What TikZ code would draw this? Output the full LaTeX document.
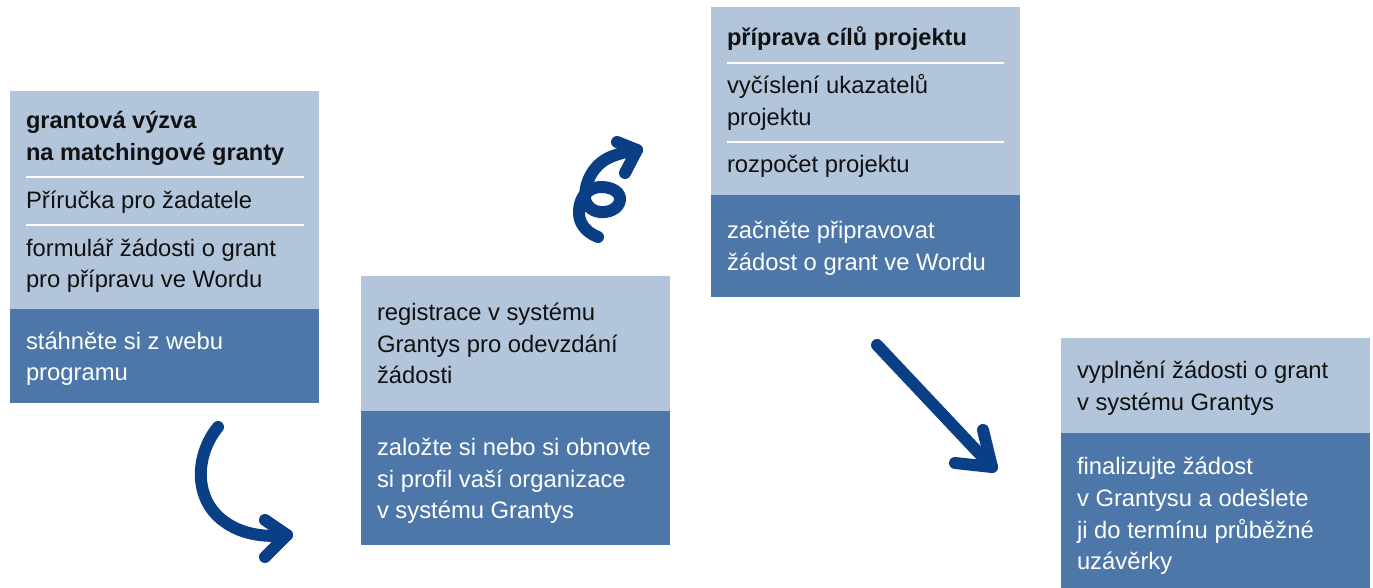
\documentclass[tikz,border=0pt]{standalone}
\usepackage{fontspec}
\setmainfont{Liberation Sans}
\definecolor{lightbox}{HTML}{B2C5DB}
\definecolor{darkbox}{HTML}{4C77A8}
\definecolor{arrowblue}{HTML}{0A3F86}
\definecolor{textdark}{HTML}{111111}
\begin{document}
\begin{tikzpicture}[x=1pt,y=-1pt,
  boxpart/.style={draw=none,inner sep=0pt,outer sep=0pt,anchor=north west},
  lightpart/.style={boxpart,fill=lightbox},
  darkpart/.style={boxpart,fill=darkbox},
  txt/.style={anchor=base west,inner sep=0pt,outer sep=0pt,font=\fontsize{23.8}{32}\selectfont,text=textdark},
  wtxt/.style={txt,text=white},
  btxt/.style={txt,font=\fontsize{23.6}{32}\selectfont\bfseries},
  sepline/.style={white,line width=2.5pt},
  flow/.style={arrowblue,line width=12pt,line cap=round,line join=round}]
\useasboundingbox (0,0) rectangle (1373,588);

% box 1
\node[lightpart,minimum width=309pt,minimum height=218pt] (b1l) at (10,91) {};
\node[darkpart,minimum width=309pt,minimum height=94pt] (b1d) at (10,309) {};
\node[btxt] (t1a) at (26,129) {grantová výzva};
\node[btxt] (t1b) at (26,161) {na matchingové granty};
\coordinate (s1a) at (26,177); \coordinate (s1b) at (304,177);
\draw[sepline] (s1a) -- (s1b);
\node[txt] (t1c) at (26,208) {Příručka pro žadatele};
\coordinate (s1c) at (26,225); \coordinate (s1d) at (304,225);
\draw[sepline] (s1c) -- (s1d);
\node[txt] (t1d) at (26,256) {formulář žádosti o grant};
\node[txt] (t1e) at (26,287) {pro přípravu ve Wordu};
\node[wtxt] (t1f) at (26,349) {stáhněte si z webu};
\node[wtxt] (t1g) at (26,380) {programu};

% box 2
\node[lightpart,minimum width=309pt,minimum height=135pt] (b2l) at (361,276) {};
\node[darkpart,minimum width=309pt,minimum height=134pt] (b2d) at (361,411) {};
\node[txt] (t2a) at (377,320) {registrace v systému};
\node[txt] (t2b) at (377,352) {Grantys pro odevzdání};
\node[txt] (t2c) at (377,383) {žádosti};
\node[wtxt] (t2d) at (377,455) {založte si nebo si obnovte};
\node[wtxt] (t2e) at (377,487) {si profil vaší organizace};
\node[wtxt] (t2f) at (377,518) {v systému Grantys};

% box 3
\node[lightpart,minimum width=309pt,minimum height=188pt] (b3l) at (711,7) {};
\node[darkpart,minimum width=309pt,minimum height=102pt] (b3d) at (711,195) {};
\node[btxt] (t3a) at (727,46) {příprava cílů projektu};
\coordinate (s3a) at (727,63); \coordinate (s3b) at (1004,63);
\draw[sepline] (s3a) -- (s3b);
\node[txt] (t3b) at (727,94) {vyčíslení ukazatelů};
\node[txt] (t3c) at (727,126) {projektu};
\coordinate (s3c) at (727,142); \coordinate (s3d) at (1004,142);
\draw[sepline] (s3c) -- (s3d);
\node[txt] (t3d) at (727,173) {rozpočet projektu};
\node[wtxt] (t3e) at (727,239) {začněte připravovat};
\node[wtxt] (t3f) at (727,270) {žádost o grant ve Wordu};

% box 4
\node[lightpart,minimum width=309pt,minimum height=95pt] (b4l) at (1061,338) {};
\node[darkpart,minimum width=309pt,minimum height=155pt] (b4d) at (1061,433) {};
\node[txt] (t4a) at (1077,378) {vyplnění žádosti o grant};
\node[txt] (t4b) at (1077,410) {v systému Grantys};
\node[wtxt] (t4c) at (1077,474) {finalizujte žádost};
\node[wtxt] (t4d) at (1077,506) {v Grantysu a odešlete};
\node[wtxt] (t4e) at (1077,538) {ji do termínu průběžné};
\node[wtxt] (t4f) at (1077,569) {uzávěrky};

% arrow 1
\coordinate (a1s) at (218,427);
\coordinate (a1t) at (287,535);
\coordinate (a1u) at (265,520);
\coordinate (a1v) at (265,557);
\draw[flow] (a1s) .. controls (195,455) and (193,500) .. (225,522)
  .. controls (240,533) and (262,538) .. (a1t);
\draw[flow] (a1u) -- (a1t) -- (a1v);

% arrow 2 (curly)
\coordinate (a2s) at (598,237);
\coordinate (a2t) at (637,150);
\coordinate (a2u) at (617,142);
\coordinate (a2v) at (625,173);
\draw[flow] (a2s) .. controls (585,232) and (578,222) .. (579,210)
  .. controls (580,195) and (590,187) .. (601,187)
  .. controls (613,187) and (621,193) .. (620,200)
  .. controls (619,209) and (608,213) .. (600,212)
  .. controls (590,211) and (584,203) .. (585,195)
  .. controls (586,178) and (596,162) .. (613,156)
  .. controls (621,153) and (630,151) .. (a2t);
\draw[flow] (a2u) -- (a2t) -- (a2v);

% arrow 3
\coordinate (a3s) at (877,345);
\coordinate (a3t) at (992,467);
\coordinate (a3u) at (983,430);
\coordinate (a3v) at (955,463);
\draw[flow] (a3s) -- (a3t);
\draw[flow] (a3u) -- (a3t) -- (a3v);
\end{tikzpicture}
\end{document}
